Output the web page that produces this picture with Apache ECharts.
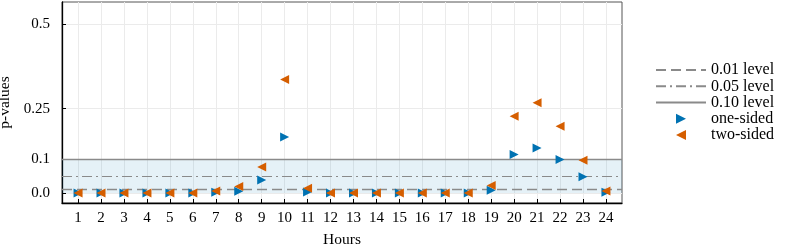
<!DOCTYPE html>
<html>
<head>
<meta charset="utf-8">
<script src="https://cdn.jsdelivr.net/npm/echarts@6/dist/echarts.min.js"></script>
<style>html,body{margin:0;padding:0;background:#fff}#c{width:789px;height:247px}</style>
</head>
<body>
<div id="c"></div>
<script>
const hours = [1,2,3,4,5,6,7,8,9,10,11,12,13,14,15,16,17,18,19,20,21,22,23,24];
const oneSided = [0,0,0,0,0,0,0.002,0.005,0.038,0.166,0.003,0,0,0,0,0,0,0,0.008,0.114,0.133,0.099,0.048,0.002];
const twoSided = [0,0,0,0,0,0,0.006,0.019,0.077,0.337,0.014,0,0,0,0,0,0,0,0.022,0.228,0.268,0.198,0.097,0.006];
const yTickValues = [0, 0.1, 0.25, 0.5];
const yTickLabels = ['0.0', '0.1', '0.25', '0.5'];
const levelNames = ['0.01 level', '0.05 level', '0.10 level'];
const levelValues = [0.01, 0.05, 0.10];
const bandRange = [0, 0.1];

const FONT = 'Liberation Serif';
const gray = '#8a8a8a';
const levelTypes = [[10, 5], [10, 4, 2, 4], 'solid'];
const levelWidths = [1.3, 1.1, 1.3];

const pts = (vals) => hours.map((h, i) => [h, vals[i]]);

const levelSeries = levelNames.map((name, i) => ({
  name: name,
  type: 'line',
  data: [],
  symbol: 'none',
  lineStyle: { color: gray, type: levelTypes[i], width: levelWidths[i] },
  itemStyle: { color: 'rgba(0,0,0,0)', borderColor: 'rgba(0,0,0,0)' },
  markLine: {
    silent: true,
    symbol: ['none', 'none'],
    label: { show: false },
    animation: false,
    lineStyle: { color: gray, type: levelTypes[i], width: levelWidths[i] },
    data: [{ yAxis: levelValues[i] }]
  },
  markArea: i === 0 ? {
    silent: true,
    animation: false,
    itemStyle: { color: 'rgba(0,114,178,0.10)' },
    data: [[{ yAxis: bandRange[0] }, { yAxis: bandRange[1] }]]
  } : undefined
}));

const option = {
  animation: false,
  textStyle: { fontFamily: FONT },
  grid: { left: 62, right: 167, top: 2, bottom: 44, show: true, borderColor: '#555', borderWidth: 1, containLabel: false, outerBoundsMode: 'none' },
  xAxis: {
    type: 'value',
    min: 0.3, max: 24.7,
    name: 'Hours', nameLocation: 'middle', nameGap: 29,
    nameTextStyle: { fontFamily: FONT, fontSize: 15.5, color: '#000' },
    axisLine: { show: true, onZero: false, lineStyle: { color: '#000', width: 1.3 } },
    axisTick: { show: true, inside: true, length: 4, customValues: hours, lineStyle: { color: '#000' } },
    axisLabel: { customValues: hours, fontFamily: FONT, fontSize: 15, color: '#000', margin: 8 },
    splitLine: { show: true, lineStyle: { color: '#ebebeb', width: 1 } }
  },
  yAxis: {
    type: 'value',
    min: -0.03, max: 0.567,
    name: 'p-values', nameLocation: 'middle', nameGap: 40,
    nameTextStyle: { fontFamily: FONT, fontSize: 15.5, color: '#000' },
    axisLine: { show: true, onZero: false, lineStyle: { color: '#000', width: 1.3 } },
    axisTick: { show: true, inside: true, length: 4, customValues: yTickValues, lineStyle: { color: '#000' } },
    axisLabel: {
      customValues: yTickValues, fontFamily: FONT, fontSize: 15, color: '#000', margin: 12,
      formatter: (v) => { const k = yTickValues.findIndex(t => Math.abs(t - v) < 1e-9); return k >= 0 ? yTickLabels[k] : ''; }
    },
    splitLine: { show: true, lineStyle: { color: '#ebebeb', width: 1 } }
  },
  legend: {
    orient: 'vertical',
    left: 655, top: 62, padding: 0,
    itemWidth: 50, itemHeight: 10, itemGap: 0,
    textStyle: { fontFamily: FONT, fontSize: 16, lineHeight: 16.2, color: '#000' },
    data: levelNames.concat(['one-sided', 'two-sided'])
  },
  series: levelSeries.concat([
    {
      name: 'one-sided', type: 'scatter', data: pts(oneSided),
      symbol: 'path://M0,0L10,5L0,10Z', symbolSize: 9, symbolKeepAspect: true,
      itemStyle: { color: '#0072B2', opacity: 1 }, z: 5
    },
    {
      name: 'two-sided', type: 'scatter', data: pts(twoSided),
      symbol: 'path://M10,0L0,5L10,10Z', symbolSize: 9, symbolKeepAspect: true,
      itemStyle: { color: '#D55E00', opacity: 1 }, z: 6
    }
  ])
};

const chart = echarts.init(document.getElementById('c'), null, { renderer: 'canvas' });
chart.setOption(option);
</script>
</body>
</html>
